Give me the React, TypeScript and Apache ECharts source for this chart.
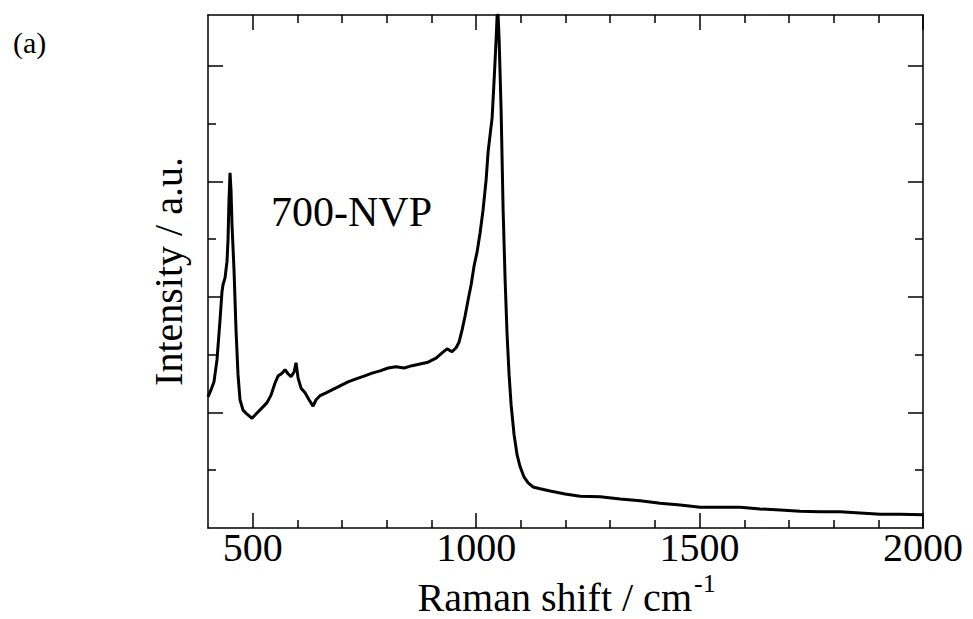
import React, { useEffect, useRef } from "react";
import * as echarts from "echarts";

// Raman shift (cm^-1) and intensity (a.u.)
const ramanShift = [
  400, 406.7, 413.4, 420.1, 426.9, 431.3, 433.6, 438.1, 442.5, 444.8, 447.0, 449.3, 451.5, 453.7,
  458.2, 462.7, 467.2, 471.6, 478.4, 487.3, 498.5, 509.7, 520.9, 532.1, 541.0, 550.0, 556.7, 565.7,
  572.4, 579.1, 585.8, 592.6, 597.0, 601.5, 608.2, 617.2, 626.1, 635.1, 641.8, 650.7, 664.2, 677.6,
  695.5, 713.4, 731.3, 749.2, 767.1, 785.1, 803.0, 820.9, 838.8, 856.7, 874.6, 892.5, 910.4, 923.8,
  935.0, 946.2, 955.2, 961.9, 968.6, 975.3, 982.1, 988.8, 995.5, 1002.2, 1008.9, 1015.6, 1022.4,
  1026.8, 1031.3, 1035.8, 1040.3, 1044.7, 1047.0, 1049.2, 1051.5, 1055.9, 1060.4, 1064.9, 1069.3,
  1073.8, 1078.3, 1085.0, 1091.8, 1098.5, 1107.4, 1116.4, 1127.6, 1143.3, 1165.6, 1199.2, 1232.8,
  1277.6, 1322.4, 1367.1, 1411.9, 1456.7, 1501.4, 1546.2, 1591.0, 1635.8, 1680.5, 1725.3, 1770.1,
  1814.9, 1859.6, 1904.4, 1949.2, 2000,
];
const intensity = [
  2.27, 2.39, 2.53, 2.91, 3.6, 4.09, 4.21, 4.33, 4.61, 4.99, 5.68, 6.15, 5.85, 5.25,
  4.47, 3.43, 2.65, 2.22, 2.04, 1.97, 1.9, 1.99, 2.08, 2.17, 2.3, 2.51, 2.63, 2.68,
  2.74, 2.67, 2.62, 2.7, 2.86, 2.6, 2.42, 2.34, 2.22, 2.11, 2.22, 2.29, 2.34, 2.39,
  2.46, 2.53, 2.58, 2.63, 2.68, 2.72, 2.77, 2.79, 2.77, 2.81, 2.84, 2.87, 2.94, 3.03,
  3.1, 3.05, 3.12, 3.22, 3.43, 3.67, 3.95, 4.21, 4.54, 4.78, 5.11, 5.51, 6.03,
  6.51, 6.81, 7.1, 7.76, 8.45, 8.88, 8.88, 8.45, 7.24, 5.51, 4.29, 3.34,
  2.65, 2.13, 1.61, 1.26, 1.06, 0.88, 0.78, 0.71, 0.68, 0.64, 0.59, 0.55,
  0.54, 0.5, 0.47, 0.43, 0.4, 0.36, 0.36, 0.36, 0.33, 0.31, 0.29, 0.28,
  0.28, 0.26, 0.24, 0.24, 0.23,
];

const xMajor = [500, 1000, 1500, 2000];
const xMinor = [600, 700, 800, 900, 1100, 1200, 1300, 1400, 1600, 1700, 1800, 1900];
const yMajor = [2, 4, 6, 8];
const yMinor = [1, 3, 5, 7];
const xRange = [400, 2000];
const yRange = [0, 8.88];

const FONT = "Liberation Serif, Times New Roman, DejaVu Serif, serif";

export default function App() {
  const ref = useRef<HTMLDivElement>(null);
  useEffect(() => {
    if (!ref.current) return;
    const chart = echarts.init(ref.current, undefined, { renderer: "svg" });
    const lineStyle = { color: "#000", width: 1.5 };
    const mkX = (position: string, ticks: number[], len: number, showLine: boolean, labels: boolean) => ({
      type: "value",
      position,
      min: xRange[0],
      max: xRange[1],
      axisLine: { show: showLine, onZero: false, lineStyle },
      axisTick: { show: true, inside: true, length: len, customValues: ticks, lineStyle },
      axisLabel: labels
        ? {
            show: true,
            customValues: xMajor,
            formatter: (v: number) => String(v),
            fontSize: 40,
            lineHeight: 28,
            fontFamily: FONT,
            color: "#000",
            margin: 5,
          }
        : { show: false },
      splitLine: { show: false },
    });
    const mkY = (position: string, ticks: number[], len: number, showLine: boolean, name?: string) => ({
      type: "value",
      position,
      min: yRange[0],
      max: yRange[1],
      name: name || "",
      nameLocation: "middle",
      nameGap: 20,
      nameTextStyle: { fontSize: 40, fontFamily: FONT, color: "#000" },
      axisLine: { show: showLine, onZero: false, lineStyle },
      axisTick: { show: true, inside: true, length: len, customValues: ticks, lineStyle },
      axisLabel: { show: false },
      splitLine: { show: false },
    });
    chart.setOption({
      animation: false,
      backgroundColor: "#fff",
      grid: { left: 208, top: 15, right: 50, bottom: 91, containLabel: false },
      xAxis: [
        mkX("bottom", xMajor, 15, true, true),
        mkX("bottom", xMinor, 8, false, false),
        mkX("top", xMajor, 15, true, false),
        mkX("top", xMinor, 8, false, false),
      ],
      yAxis: [
        mkY("left", yMajor, 15, true, "Intensity / a.u."),
        mkY("left", yMinor, 8, false),
        mkY("right", yMajor, 15, true),
        mkY("right", yMinor, 8, false),
      ],
      series: [
        {
          type: "line",
          xAxisIndex: 0,
          yAxisIndex: 0,
          data: ramanShift.map((w, i) => [w, intensity[i]]),
          showSymbol: false,
          symbol: "none",
          lineStyle: { color: "#000", width: 3 },
          clip: true,
        },
      ],
      graphic: [
        {
          type: "text",
          x: 13,
          y: 42,
          style: { text: "(a)", fontSize: 30, fontFamily: FONT, fill: "#000", align: "left", verticalAlign: "middle" },
        },
        {
          type: "text",
          x: 271,
          y: 212,
          style: { text: "700-NVP", fontSize: 42, fontFamily: FONT, fill: "#000", align: "left", verticalAlign: "middle" },
        },
        {
          type: "text",
          x: 692,
          y: 597,
          style: {
            text: "Raman shift / cm",
            fontSize: 40,
            lineHeight: 30,
            fontFamily: FONT,
            fill: "#000",
            align: "right",
            verticalAlign: "middle",
          },
        },
        {
          type: "text",
          x: 694,
          y: 583,
          style: {
            text: "-1",
            fontSize: 26,
            lineHeight: 18,
            fontFamily: FONT,
            fill: "#000",
            align: "left",
            verticalAlign: "middle",
          },
        },
      ],
    });
    return () => chart.dispose();
  }, []);
  return <div ref={ref} style={{ position: "fixed", left: 0, top: 0, width: 973, height: 619 }} />;
}
